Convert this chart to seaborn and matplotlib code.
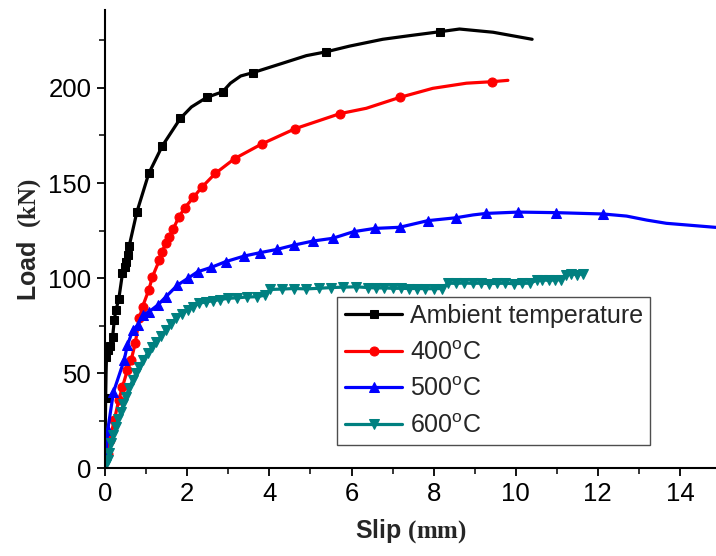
import matplotlib
matplotlib.use("Agg")
import matplotlib.pyplot as plt
import seaborn as sns
import numpy as np

# ---- data: slip (mm) vs load (kN) ----
amb_slip = [0, 0.0, 0.01, 0.02, 0.03, 0.06, 0.11, 0.18, 0.22, 0.26, 0.33, 0.42, 0.47,
            0.50, 0.55, 0.585, 0.77, 1.06, 1.39, 1.83, 2.10, 2.47, 2.86, 3.05, 3.30,
            3.59, 4.32, 4.90, 5.38, 5.95, 6.76, 7.41, 8.16, 8.63, 9.45, 10.40]
amb_load = [0, 20, 37, 50, 58.6, 62, 64, 69, 78, 83, 89, 102.5, 106,
            108.6, 112, 117, 134.7, 155, 169.5, 184, 190, 195, 198, 202.5, 206.3,
            208, 213, 217, 219, 222, 225.6, 227.5, 229.6, 231, 229.3, 225.6]
amb_marks = [2, 4, 5, 6, 7, 8, 9, 10, 11, 12, 13, 14, 15, 16, 17, 18, 19,
             21, 22, 25, 28, 32]

t400_slip = [0, 0.06, 0.11, 0.22, 0.33, 0.42, 0.54, 0.63, 0.73, 0.83, 0.91, 1.06,
             1.15, 1.32, 1.38, 1.48, 1.56, 1.66, 1.79, 1.94, 2.15, 2.35, 2.68, 3.15,
             3.81, 4.63, 5.72, 6.36, 7.17, 7.98, 8.80, 9.43, 9.81]
t400_load = [0, 7.7, 14.7, 25.3, 35.8, 42.8, 51.6, 56.8, 65.6, 78.8, 85, 93.7,
             100.7, 109.5, 113.8, 118.3, 121.7, 126, 132, 137, 142.5, 147.7, 155, 162.8,
             170.5, 178.6, 186.5, 189.3, 195, 199.8, 202.5, 203.3, 204]
t400_marks = list(range(1, 27)) + [28, 31]

t500_slip = [0, 0.06, 0.20, 0.46, 0.54, 0.67, 0.79, 0.91, 1.07, 1.28, 1.48, 1.76,
             2.01, 2.25, 2.58, 2.93, 3.39, 3.76, 4.19, 4.61, 5.07, 5.54, 6.05, 6.56,
             7.17, 7.86, 8.54, 8.96, 9.28, 10.06, 10.99, 12.13, 12.70, 13.19, 13.67,
             14.85, 15.20]
t500_load = [0, 20, 40, 56.8, 64.7, 72.6, 75.3, 80.5, 82.3, 85.8, 90.2, 96.3,
             99.8, 103.3, 105.6, 108.6, 111.6, 113.3, 115.1, 117.4, 119.5, 120.9, 124.4, 126.1,
             126.7, 130.2, 131.7, 133.2, 134, 134.7, 134.4, 133.7, 132.6, 130.5, 128.8,
             126.7, 126.2]
t500_marks = list(range(1, 27)) + [28, 29, 30, 31]

t600_slip = [0, 0.03, 0.06, 0.10, 0.14, 0.20, 0.26, 0.32, 0.38, 0.44, 0.50, 0.58,
             0.67, 0.75, 0.83, 0.93, 1.03, 1.13, 1.24, 1.36, 1.48, 1.60, 1.72, 1.86,
             2.01, 2.15, 2.29, 2.45, 2.62, 2.80, 2.98, 3.20, 3.45, 3.70, 3.90, 4.02,
             4.30, 4.60, 4.90, 5.20, 5.50, 5.80, 6.10, 6.40, 6.60, 6.80, 7.00, 7.20,
             7.40, 7.60, 7.80, 8.00, 8.20, 8.35, 8.55, 8.75, 8.95, 9.15, 9.35, 9.55,
             9.75, 9.95, 10.15, 10.35, 10.52, 10.65, 10.80, 10.95, 11.10, 11.22, 11.35,
             11.50, 11.64]
t600_load = [0, 2, 4.2, 8, 13, 17.5, 21.7, 25.8, 29.6, 33.5, 37.5, 42,
             46.3, 50, 53.3, 57, 60.4, 63.5, 66.5, 69.5, 72.6, 75.8, 78.8, 81.2,
             83.2, 85, 86.7, 87.5, 88, 88.7, 89.3, 89.6, 90, 90.2, 91, 94,
             94.2, 94.5, 94.3, 94.6, 95, 95.2, 95.4, 95, 94.8, 94.8, 94.6, 94.6,
             94.5, 94.5, 94.4, 94.4, 94.5, 97.3, 97.2, 97.4, 97.2, 97.3, 97.1, 97.2,
             97.3, 97, 97.2, 97.3, 98.9, 99, 98.8, 99, 99.1, 101.5, 102.2,
             101.8, 102.3]

labels = ["Ambient temperature", "400$^\\mathsf{o}$C", "500$^\\mathsf{o}$C", "600$^\\mathsf{o}$C"]
colors = ["#000000", "#ff0000", "#0000ff", "#008080"]

x_ticks = [0, 2, 4, 6, 8, 10, 12, 14]
y_ticks = [0, 50, 100, 150, 200]

# ---- style ----
sns.set_style("ticks")
plt.rcParams["font.family"] = ["Liberation Sans", "DejaVu Sans"]
plt.rcParams["mathtext.fontset"] = "custom"
plt.rcParams["mathtext.bf"] = "Liberation Serif:bold"
plt.rcParams["mathtext.rm"] = "Liberation Serif"
plt.rcParams["mathtext.sf"] = "Liberation Sans"

fig = plt.figure(figsize=(7.16, 5.56), dpi=100)
ax = fig.add_axes([0.147, 0.158, 0.853, 0.824])

series = [
    (amb_slip, amb_load, amb_marks, "s", 6.0),
    (t400_slip, t400_load, t400_marks, "o", 6.5),
    (t500_slip, t500_load, t500_marks, "^", 7.0),
    (t600_slip, t600_load, list(range(1, len(t600_slip))), "v", 7.0),
]
for (xs, ys, marks, mk, ms), lab, col in zip(series, labels, colors):
    sns.lineplot(x=xs, y=ys, ax=ax, sort=False, estimator=None, color=col,
                 linewidth=2.3, marker=mk, markersize=ms, markevery=marks,
                 markeredgecolor=col, markerfacecolor=col, label=lab)

ax.set_xlim(0, 14.88)
ax.set_ylim(0, 241)
ax.set_xticks(x_ticks)
ax.set_yticks(y_ticks)
ax.set_xticks(np.arange(1, 15, 2), minor=True)
ax.set_yticks(np.arange(25, 241, 50), minor=True)
ax.tick_params(which="major", direction="out", length=6, width=1.3,
               labelsize=18.5, colors="black", pad=4)
ax.tick_params(which="minor", direction="out", length=4, width=1.3)

for side in ("top", "right"):
    ax.spines[side].set_visible(False)
for side in ("left", "bottom"):
    ax.spines[side].set_linewidth(1.5)
    ax.spines[side].set_color("black")

ax.set_xlabel("Slip $\\mathbf{(mm)}$", fontsize=18, fontweight="bold", labelpad=8)
ax.set_ylabel("Load  $\\mathbf{(kN)}$", fontsize=18, fontweight="bold", labelpad=4)

leg = ax.legend(loc="lower left", bbox_to_anchor=(0.38, 0.05), fontsize=18,
                frameon=True, fancybox=False, edgecolor="#222222", numpoints=1,
                handlelength=2.3, handletextpad=0.3, labelspacing=0.5,
                borderpad=0.3, borderaxespad=0)
leg.get_frame().set_linewidth(1.0)

fig.savefig("out.png", dpi=100)
